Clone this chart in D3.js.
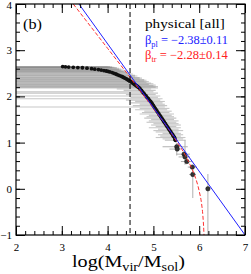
<!DOCTYPE html>
<html>
<head>
<meta charset="utf-8">
<script src="https://cdn.jsdelivr.net/npm/d3@7"></script>
<style>
  body { margin: 0; background: #fff; }
  svg { display: block; }
  text { font-family: "Liberation Serif", "Times New Roman", serif; }
</style>
</head>
<body>
<svg id="chart" width="251" height="274"></svg>
<script>
// panel (b): cumulative mass function, physical [all]

var xTicks = [2, 3, 4, 5, 6, 7]
var yTicks = [-1, 0, 1, 2, 3, 4]

// dense part of the sample: log M, log N and the mass error bar ends
var logM = [3.02, 3.08, 3.15, 3.25, 3.35, 3.45, 3.55, 3.65, 3.72, 3.80, 3.86, 3.92, 3.97,
  4.01, 4.05, 4.10, 4.14, 4.18, 4.21, 4.25, 4.29, 4.32, 4.35, 4.38, 4.41, 4.43, 4.46,
  4.48, 4.51, 4.53, 4.55, 4.57, 4.59, 4.61, 4.63, 4.65, 4.67, 4.69,
  4.71, 4.74, 4.76, 4.79, 4.81, 4.84, 4.86, 4.89, 4.91, 4.94, 4.96, 4.98, 5.00,
  5.02, 5.04, 5.06, 5.08, 5.10, 5.12, 5.14, 5.16, 5.18, 5.20, 5.22, 5.24, 5.26,
  5.28, 5.30, 5.32, 5.34, 5.36, 5.38, 5.40, 5.42, 5.44, 5.46, 5.47, 5.48]
var logN = [2.645, 2.64, 2.635, 2.63, 2.625, 2.62, 2.61, 2.60, 2.59, 2.58, 2.57, 2.56, 2.55,
  2.54, 2.53, 2.515, 2.50, 2.485, 2.47, 2.455, 2.44, 2.425, 2.41, 2.395, 2.38, 2.365, 2.35,
  2.335, 2.32, 2.305, 2.29, 2.275, 2.26, 2.245, 2.23, 2.215, 2.20, 2.185,
  2.16, 2.13, 2.10, 2.07, 2.04, 2.01, 1.98, 1.95, 1.92, 1.89, 1.86, 1.83, 1.80,
  1.77, 1.74, 1.71, 1.68, 1.65, 1.62, 1.59, 1.56, 1.53, 1.50, 1.47, 1.44, 1.41,
  1.38, 1.35, 1.32, 1.29, 1.26, 1.23, 1.20, 1.17, 1.14, 1.11, 1.08, 1.05]
var mLo = [1.0, 1.0, 1.0, 1.0, 1.0, 1.0, 1.0, 1.0, 1.0, 1.0, 1.0, 1.0, 1.0,
  1.0, 1.0, 1.0, 1.0, 1.0, 1.0, 1.0, 1.0, 1.0, 1.0, 1.0, 1.0, 1.0, 1.0,
  1.0, 1.0, 1.0, 1.0, 1.0, 1.0, 1.0, 1.0, 1.0, 1.0, 1.0,
  4.2, 4.35, 1.0, 1.0, 4.4, 1.0, 4.5, 1.0, 4.4, 4.6, 4.5, 4.7, 4.55,
  1.0, 4.7, 4.6, 4.8, 4.75, 4.7, 4.9, 4.85, 4.8, 4.95, 4.9, 4.85, 5.0,
  4.95, 5.05, 4.9, 5.1, 5.0, 5.05, 5.2, 5.1, 5.15, 5.05, 5.2, 5.25]
var mHi = [4.05, 4.10, 4.0, 4.15, 4.2, 4.1, 4.25, 4.2, 4.3, 4.25, 4.35, 4.3, 4.4,
  4.35, 4.45, 4.4, 4.5, 4.55, 4.5, 4.6, 4.65, 4.6, 4.7, 4.75, 4.7, 4.8, 4.85,
  4.8, 4.9, 4.85, 4.95, 5.0, 4.9, 5.05, 5.0, 5.1, 5.05, 5.1,
  4.95, 5.05, 5.0, 5.1, 5.05, 5.15, 5.1, 5.2, 5.15, 5.25, 5.2, 5.25, 5.3,
  5.25, 5.35, 5.3, 5.4, 5.35, 5.45, 5.4, 5.45, 5.5, 5.45, 5.55, 5.5, 5.55,
  5.6, 5.5, 5.6, 5.55, 5.65, 5.55, 5.6, 5.65, 5.6, 5.7, 5.65, 5.7]

// sparse high mass end, with both error bars
var tailM = [5.51, 5.52, 5.67, 5.69, 5.73, 5.85, 5.86, 6.19]
var tailN = [0.91, 0.86, 0.75, 0.69, 0.59, 0.47, 0.31, 0.00]
var tailMLo = [5.2, 5.35, 5.5, 5.55, 5.6, 5.75, 5.78, 6.19]
var tailMHi = [5.75, 5.6, 5.8, 5.8, 5.85, 5.95, 5.93, 6.19]
var tailNLo = [0.72, 0.86, 0.75, 0.52, 0.59, 0.47, -0.2, -1.2]
var tailNHi = [1.0, 0.86, 0.75, 1.06, 0.59, 0.47, 0.42, 0.32]

// fits: power law and truncated power law
var plM = [3.375, 7]
var plN = [4, -1]
var trM = [3.25, 4.0, 4.5, 5.0, 5.3, 5.5, 5.7, 5.8, 5.9, 6.0, 6.05, 6.08, 6.1, 6.105]
var trN = [4.0, 3.04, 2.40, 1.74, 1.34, 1.04, 0.72, 0.52, 0.29, -0.05, -0.31, -0.58, -0.89, -1.0]

var cutM = 4.49

var svg = d3.select('#chart')
var x = d3.scaleLinear().domain([2, 7]).range([16, 245])
var y = d3.scaleLinear().domain([-1, 4]).range([235, 4])

svg.append('clipPath').attr('id', 'plot')
  .append('rect')
  .attr('x', x(2)).attr('y', y(4))
  .attr('width', x(7) - x(2)).attr('height', y(-1) - y(4))

var plot = svg.append('g').attr('clip-path', 'url(#plot)')

// mass error bars
plot.append('g')
  .selectAll('line')
  .data(d3.range(logM.length))
  .enter().append('line')
  .attr('x1', function (i) { return x(mLo[i]) })
  .attr('x2', function (i) { return x(mHi[i]) })
  .attr('y1', function (i) { return y(logN[i]) })
  .attr('y2', function (i) { return y(logN[i]) })
  .attr('stroke', '#808080')
  .attr('stroke-opacity', 0.45)
  .attr('stroke-width', 1.1)

var tail = d3.range(tailM.length)
plot.append('g')
  .selectAll('line')
  .data(tail)
  .enter().append('line')
  .attr('x1', function (i) { return x(tailMLo[i]) })
  .attr('x2', function (i) { return x(tailMHi[i]) })
  .attr('y1', function (i) { return y(tailN[i]) })
  .attr('y2', function (i) { return y(tailN[i]) })
  .attr('stroke', '#b0b0b0')
  .attr('stroke-width', 1)

plot.append('g')
  .selectAll('line')
  .data(tail)
  .enter().append('line')
  .attr('x1', function (i) { return x(tailM[i]) })
  .attr('x2', function (i) { return x(tailM[i]) })
  .attr('y1', function (i) { return y(tailNLo[i]) })
  .attr('y2', function (i) { return y(tailNHi[i]) })
  .attr('stroke', '#b0b0b0')
  .attr('stroke-width', 1)

// points
plot.append('g')
  .selectAll('circle')
  .data(d3.range(logM.length))
  .enter().append('circle')
  .attr('cx', function (i) { return x(logM[i]) })
  .attr('cy', function (i) { return y(logN[i]) })
  .attr('r', 1.9)
  .attr('fill', '#111')

plot.append('g')
  .selectAll('circle')
  .data(tail)
  .enter().append('circle')
  .attr('cx', function (i) { return x(tailM[i]) })
  .attr('cy', function (i) { return y(tailN[i]) })
  .attr('r', 2.2)
  .attr('fill', '#333')
  .attr('stroke', '#111')
  .attr('stroke-width', 0.5)

// fits
var line = d3.line()
  .x(function (d) { return x(d[0]) })
  .y(function (d) { return y(d[1]) })

plot.append('path')
  .datum(d3.zip(trM, trN))
  .attr('d', line.curve(d3.curveMonotoneX))
  .attr('fill', 'none')
  .attr('stroke', '#ff3030')
  .attr('stroke-width', 1)
  .attr('stroke-dasharray', '4,2')

plot.append('path')
  .datum(d3.zip(plM, plN))
  .attr('d', d3.line().x(function (d) { return x(d[0]) }).y(function (d) { return y(d[1]) }))
  .attr('fill', 'none')
  .attr('stroke', '#2020ff')
  .attr('stroke-width', 1)

plot.append('line')
  .attr('x1', x(cutM)).attr('x2', x(cutM))
  .attr('y1', y(4)).attr('y2', y(-1))
  .attr('stroke', '#000')
  .attr('stroke-width', 1)
  .attr('stroke-dasharray', '5,3')

// axes, ticks pointing inwards on all four sides
var xMinor = d3.range(2, 7.001, 0.2)
var yMinor = d3.range(-1, 4.001, 0.2)

function clean (g) {
  g.select('.domain').remove()
  g.selectAll('line').attr('stroke', '#000')
  g.selectAll('text')
    .attr('font-family', '"Liberation Serif", serif')
    .attr('font-size', 11)
    .attr('fill', '#000')
}

svg.append('g').attr('transform', 'translate(0,' + y(-1) + ')')
  .call(d3.axisBottom(x).tickValues(xTicks).tickSize(-9).tickPadding(8).tickFormat(d3.format('d')))
  .call(clean)
svg.append('g').attr('transform', 'translate(0,' + y(-1) + ')')
  .call(d3.axisBottom(x).tickValues(xMinor).tickSize(-4).tickFormat(''))
  .call(clean)
svg.append('g').attr('transform', 'translate(0,' + y(4) + ')')
  .call(d3.axisTop(x).tickValues(xTicks).tickSize(-9).tickFormat(''))
  .call(clean)
svg.append('g').attr('transform', 'translate(0,' + y(4) + ')')
  .call(d3.axisTop(x).tickValues(xMinor).tickSize(-4).tickFormat(''))
  .call(clean)

svg.append('g').attr('transform', 'translate(' + x(2) + ',0)')
  .call(d3.axisLeft(y).tickValues(yTicks).tickSize(-9).tickPadding(4).tickFormat(d3.format('d')))
  .call(clean)
  .call(function (g) {
    // the top label sits against the window edge
    g.selectAll('.tick text').filter(function (d) { return d === 4 }).attr('dy', '0.45em')
  })
svg.append('g').attr('transform', 'translate(' + x(2) + ',0)')
  .call(d3.axisLeft(y).tickValues(yMinor).tickSize(-4).tickFormat(''))
  .call(clean)
svg.append('g').attr('transform', 'translate(' + x(7) + ',0)')
  .call(d3.axisRight(y).tickValues(yTicks).tickSize(-9).tickFormat(''))
  .call(clean)
svg.append('g').attr('transform', 'translate(' + x(7) + ',0)')
  .call(d3.axisRight(y).tickValues(yMinor).tickSize(-4).tickFormat(''))
  .call(clean)

svg.append('rect')
  .attr('x', x(2)).attr('y', y(4))
  .attr('width', x(7) - x(2)).attr('height', y(-1) - y(4))
  .attr('fill', 'none')
  .attr('stroke', '#000')
  .attr('stroke-width', 1.2)

// texts are stretched sideways in the original, so fit each to its width
function fit (t, left, width) {
  var b = t.node().getBBox()
  t.attr('transform', 'translate(' + left + ',0) scale(' + (width / b.width) + ',1) translate(' + (-b.x) + ',0)')
}

function label (parts, base, size, color) {
  var t = svg.append('text').attr('x', 0).attr('y', base)
    .attr('font-size', size).attr('fill', color)
  parts.forEach(function (p) {
    var s = t.append('tspan').text(p[0])
    if (p[1]) s.attr('font-size', p[1]).attr('dy', p[2])
    else if (p[2]) s.attr('dy', p[2])
  })
  return t
}

fit(label([['(b)']], 29, 15, '#000'), 23, 19)
fit(label([['physical [all]']], 28, 12, '#000'), 145, 80)
fit(label([['β'], ['pl', 8, 3], [' = −2.38±0.11', null, -3]], 44.5, 12, '#2020ff'), 145, 83)
fit(label([['β'], ['tr', 8, 3], [' = −2.28±0.14', null, -3]], 59.5, 12, '#ff2020'), 145, 83)
fit(label([['log(M'], ['vir', 12, 4], ['/M', null, -4], ['sol', 12, 4], [')', null, -4]], 267, 17, '#000'), 72, 113)
</script>
</body>
</html>
